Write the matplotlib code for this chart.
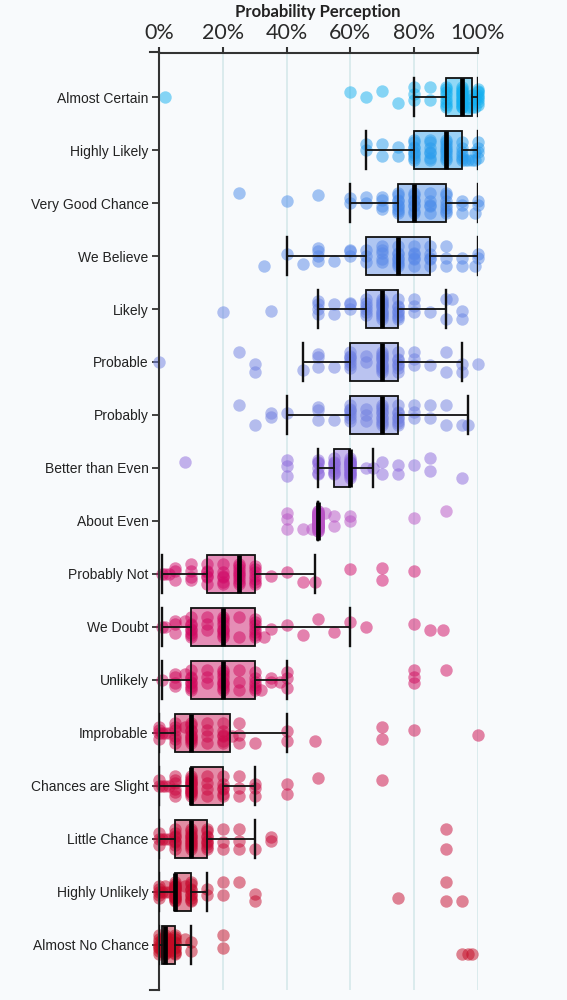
import numpy as np
import matplotlib
matplotlib.use("Agg")
import matplotlib.pyplot as plt

# ---- datos (respuestas en %) ----
frases = ["Almost Certain", "Highly Likely", "Very Good Chance", "We Believe",
          "Likely", "Probable", "Probably", "Better than Even", "About Even",
          "Probably Not", "We Doubt", "Unlikely", "Improbable",
          "Chances are Slight", "Little Chance", "Highly Unlikely",
          "Almost No Chance"]

almost_certain = [2, 60, 65, 70, 75, 80, 80, 80, 85, 85] + [90] * 8 + [95] * 14 + \
    [97, 98, 98, 98, 99, 99] + [100] * 8
highly_likely = [65, 65, 70, 70, 75, 75] + [80] * 9 + [85] * 7 + [90] * 9 + [95] * 6 + \
    [96, 97, 98, 99, 99, 100, 100, 100, 100]
very_good_chance = [25, 40, 50, 60, 60, 65, 65, 70, 70, 70, 70] + [75] * 9 + [80] * 8 + \
    [85] * 5 + [90] * 7 + [95, 95, 95, 99, 100, 100]
we_believe = [33, 40, 45, 50, 50, 50, 50, 55, 60, 60, 60, 65, 65, 65] + [70] * 5 + \
    [75] * 8 + [80] * 6 + [85] * 5 + [90, 90, 90, 95, 95, 99, 100, 100]
likely = [20, 35, 50, 50, 50, 50, 55, 55, 60, 60, 60] + [65] * 6 + [70] * 12 + \
    [75] * 8 + [80, 80, 80, 85, 90, 90, 92, 95, 95]
probable = [0, 25, 30, 30, 45, 50, 50, 50, 55] + [60] * 7 + [65, 65] + [70] * 12 + \
    [75] * 7 + [80, 80, 80, 85, 90, 90, 95, 95, 100]
probably = [25, 30, 35, 35, 40, 50, 50, 50, 55] + [60] * 7 + [65, 65, 65] + [70] * 10 + \
    [75] * 8 + [80, 80, 80, 85, 85, 90, 90, 95, 97]
better_than_even = [8, 40, 40, 40] + [50] * 6 + [55] * 8 + [60] * 18 + \
    [65, 67, 70, 70, 75, 75, 80, 85, 85, 95]
about_even = [40, 40, 40, 45, 48] + [50] * 34 + [52, 55, 55, 60, 60, 80, 90]
probably_not = [1, 2, 3, 5, 5, 5, 10, 10, 10, 10] + [15] * 6 + [20] * 6 + [25] * 9 + \
    [30] * 7 + [35, 40, 45, 49, 60, 70, 70, 80]
we_doubt = [1, 2, 5, 5, 5, 8] + [10] * 8 + [15] * 3 + [20] * 9 + [25, 25] + [30] * 7 + \
    [33, 35, 40, 45, 50, 55, 60, 65, 80, 85, 89]
unlikely = [1, 5, 5, 5, 5, 8] + [10] * 8 + [15] * 3 + [20] * 9 + [25] * 3 + [30] * 6 + \
    [32, 35, 35, 38, 40, 40, 40, 80, 80, 80, 90]
improbable = [0, 0, 0, 0, 1, 2, 3] + [5] * 6 + [8] + [10] * 10 + [15] * 4 + [20] * 6 + \
    [23, 25, 25, 25, 30, 40, 40, 49, 70, 70, 80, 100]
chances_slight = [0, 0, 1, 2, 3] + [5] * 6 + [10] * 15 + [15] * 4 + [20] * 6 + \
    [25, 25, 25, 30, 30, 30, 40, 40, 50, 70]
little_chance = [0, 0, 0, 1, 2, 3] + [5] * 8 + [10] * 12 + [15] * 9 + \
    [20, 20, 20, 25, 25, 25, 30, 35, 35, 90, 90]
highly_unlikely = [0, 0, 0, 0, 0, 1, 2, 2, 3] + [5] * 16 + [8] + [10] * 9 + \
    [15, 15, 20, 20, 25, 30, 30, 75, 90, 90, 95]
almost_no_chance = [0] * 8 + [1] * 5 + [2] * 11 + [3] * 4 + [5] * 10 + \
    [8, 10, 10, 20, 20, 95, 97, 98]

respuestas = [almost_certain, highly_likely, very_good_chance, we_believe, likely,
              probable, probably, better_than_even, about_even, probably_not,
              we_doubt, unlikely, improbable, chances_slight, little_chance,
              highly_unlikely, almost_no_chance]

colores = ["#14b0f0", "#2a9ded", "#4a8cea", "#5787e8", "#6783e4", "#6f80e2",
           "#7280e0", "#8c68dc", "#b852c4", "#d10a68", "#d00a62", "#d00a5c",
           "#cc0a4c", "#cc0a42", "#c80a38", "#c60a2e", "#c40a24"]

ticks_x = [0, 20, 40, 60, 80, 100]

# desplazamientos verticales para separar puntos repetidos
saltos = [0.0, -0.12, 0.12, -0.06, 0.06, -0.18, 0.18, 0.03, -0.03, 0.15, -0.15, 0.09, -0.09]

fondo = "#f8fafc"
fig = plt.figure(figsize=(5.67, 10), dpi=100, facecolor=fondo)
ax = fig.add_axes([0.2804, 0.01, 0.5626, 0.9375])
ax.set_facecolor(fondo)

# grilla vertical
for t in ticks_x[1:]:
    ax.axvline(t, color="#d6e9ea", lw=1.2, zorder=0)

# cajas
bp = ax.boxplot(respuestas, positions=range(len(frases)), orientation="horizontal",
                widths=0.7, capwidths=0.7, whis=1.5, showfliers=False,
                patch_artist=True, zorder=1)
for caja, c in zip(bp["boxes"], colores):
    caja.set_facecolor(matplotlib.colors.to_rgba(c, 0.45))
    caja.set_edgecolor("none")
    caja.set_zorder(1)

# puntos
for i, (vals, c) in enumerate(zip(respuestas, colores)):
    vistos = {}
    ys = []
    for v in vals:
        k = vistos.get(v, 0)
        vistos[v] = k + 1
        ys.append(i + saltos[(k + int(v) // 5) % len(saltos)])
    ax.scatter(vals, ys, s=80, color=c, alpha=0.5, linewidths=0,
               zorder=2, clip_on=False)

# bordes encima de los puntos
for caja in bp["boxes"]:
    caja2 = plt.Polygon(caja.get_path().vertices, closed=True, fill=False,
                        edgecolor="#111111", lw=1.3, zorder=3)
    ax.add_patch(caja2)
for w in bp["whiskers"]:
    w.set_color("#111111"); w.set_linewidth(1.3); w.set_zorder(3)
for cap in bp["caps"]:
    cap.set_color("#111111"); cap.set_linewidth(1.7); cap.set_zorder(3)
for m in bp["medians"]:
    m.set_color("#000000"); m.set_linewidth(3.4); m.set_zorder(4)
    m.set_solid_capstyle("butt")

ax.set_xlim(0, 100)
ax.set_ylim(16.85, -0.84)

ax.xaxis.tick_top()
ax.set_xticks(ticks_x)
ax.set_xticklabels([f"{t}%" for t in ticks_x], family="Lato", fontsize=15.5,
                   color="#2a2a2a")
ax.tick_params(axis="x", length=4.5, width=1.5, color="#333333", pad=2)
ax.set_yticks(range(len(frases)))
ax.set_yticklabels(frases, family="Liberation Sans", fontsize=10, color="#222222")
ax.tick_params(axis="y", length=5, width=1.3, color="#333333", pad=2.5)

for lado in ["right", "bottom"]:
    ax.spines[lado].set_visible(False)
for lado in ["top", "left"]:
    ax.spines[lado].set_linewidth(1.5)
    ax.spines[lado].set_color("#333333")

# extremos de los ejes (marcas exteriores)
ax.plot([-2.8, 0], [16.85, 16.85], color="#333333", lw=1.5, clip_on=False)
ax.plot([-2.8, 0], [-0.84, -0.84], color="#333333", lw=1.5, clip_on=False)

fig.text(0.5605, 0.988, "Probability Perception", family="Lato", weight="bold",
         fontsize=12, color="#222222", ha="center", va="center")

fig.savefig("out.png", dpi=100, facecolor=fondo)
